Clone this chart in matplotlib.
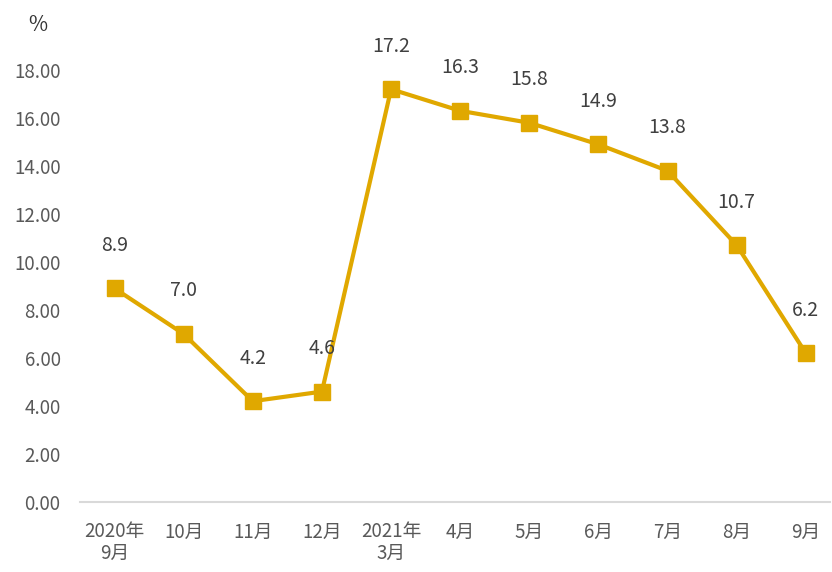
import matplotlib.pyplot as plt

plt.rcParams['font.family'] = ['Noto Sans CJK SC', 'DejaVu Sans']

months = ["2020年\n9月", "10月", "11月", "12月", "2021年\n3月",
          "4月", "5月", "6月", "7月", "8月", "9月"]
values = [8.9, 7.0, 4.2, 4.6, 17.2, 16.3, 15.8, 14.9, 13.8, 10.7, 6.2]
yticks = [0, 2, 4, 6, 8, 10, 12, 14, 16, 18]

gold = '#E0A800'
grey = '#595959'

fig = plt.figure(figsize=(8.32, 5.72), dpi=100)
ax = fig.add_axes([80 / 832, 70 / 572, 750 / 832, 432 / 572])

x = list(range(len(months)))
ax.plot(x, values, color=gold, linewidth=3, marker='s', markersize=11,
        markerfacecolor=gold, markeredgecolor=gold)

for xi, v in zip(x, values):
    ax.annotate(f"{v:.1f}", (xi, v), xytext=(0, 31), textcoords='offset points',
                ha='center', va='center', fontsize=14, color='#404040')

ax.set_xlim(-0.5, 10.35)
ax.set_ylim(0, 18)
ax.set_yticks(yticks)
ax.set_yticklabels([f"{t:.2f}" for t in yticks])
ax.set_xticks(x)
ax.set_xticklabels(months, linespacing=1.0)

for s in ['top', 'right', 'left']:
    ax.spines[s].set_visible(False)
ax.spines['bottom'].set_color('#D9D9D9')
ax.spines['bottom'].set_linewidth(1.5)
ax.spines['bottom'].set_zorder(0)
ax.tick_params(axis='both', length=0, labelsize=13.5, colors=grey)
ax.tick_params(axis='y', pad=14)
ax.tick_params(axis='x', pad=14)

fig.text(38 / 832, 1 - 25 / 572, "%", ha='center', va='center', fontsize=15, color='#333333')

fig.savefig('out.png', dpi=100, facecolor='white')
